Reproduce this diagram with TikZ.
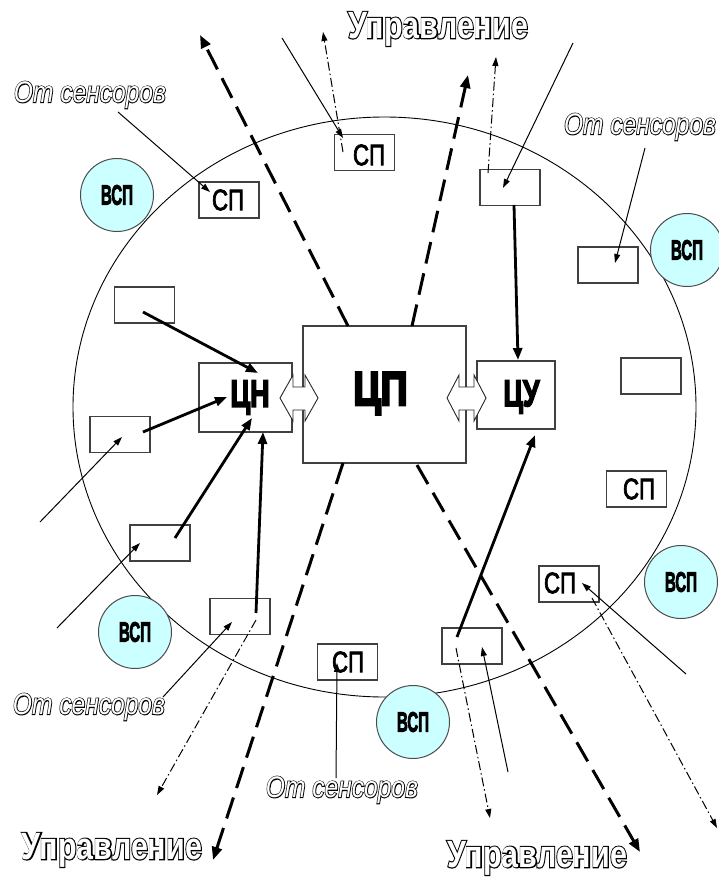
\documentclass[tikz,border=0pt]{standalone}
\usepackage{fontspec}
\setmainfont{Liberation Sans}
\usepackage{graphicx}
\usetikzlibrary{arrows.meta}

\definecolor{auxfill}{RGB}{204,255,255}

% glyphs drawn with a PDF text rendering mode (2 = fill and outline)
\newcommand\strokedtext[2]{\special{pdf:literal direct #1}#2\special{pdf:literal direct 0 Tr}}
% white letters on a black, widened copy of themselves
\newcommand\hollowtext[2]{\rlap{\strokedtext{2 Tr #1 w}{#2}}{\color{white}#2}}
\newcommand\fitbox[3]{\resizebox*{#1pt}{#2pt}{#3}}
\newcommand\bigword[1]{\fitbox{180}{34}{\hollowtext{2.4}{\fontsize{40}{40}\selectfont\bfseries #1}}}
\newcommand\itword[1]{\fitbox{152}{27}{\hollowtext{1.5}{\fontsize{26}{26}\selectfont\itshape #1}}}
\newcommand\sptext{\fitbox{32}{21}{\strokedtext{2 Tr 0.8 w}{\fontsize{28}{28}\selectfont СП}}}
\newcommand\auxtext{\fitbox{32}{20}{\strokedtext{2 Tr 1 w}{\fontsize{28}{28}\selectfont\bfseries ВСП}}}
\newcommand\unitword[4]{\fitbox{#1}{#2}{\strokedtext{2 Tr #3 w}{\fontsize{44}{44}\selectfont\bfseries #4}}}

\tikzset{
  every node/.style={inner sep=0pt, outer sep=0pt},
  frame/.style={draw=black!75, line width=1.2pt, minimum width=60pt, minimum height=36pt},
  unit/.style={draw=black!75, line width=1.2pt, fill=white},
  aux/.style={circle, draw=black!70, line width=1pt, fill=auxfill, minimum size=73pt},
  sensor/.style={line width=1pt, -{Triangle[length=9pt,width=6pt]}},
  ctrl/.style={line width=1pt, dash pattern=on 9pt off 3pt on 1.5pt off 3pt, -{Triangle[length=9pt,width=6pt]}},
  feed/.style={line width=2.8pt, -{Triangle[length=12pt,width=9pt]}},
  mainctrl/.style={line width=3pt, dash pattern=on 22pt off 10pt, -{Triangle[length=13pt,width=10pt]}},
  link/.style={draw=black!85, line width=0.9pt, fill=white}
}

\begin{document}
\begin{tikzpicture}[x=1pt,y=-1pt]
\useasboundingbox (0,0) rectangle (718,878);

% network boundary
\draw[line width=0.9pt] (384.5,407) ellipse [x radius=311.5, y radius=290];

% central units
\node[unit, minimum width=163pt, minimum height=137pt] (cp) at (384.5,394.5) {};
\node[unit, minimum width=93pt, minimum height=69pt] (cn) at (245.5,397.5) {};
\node[unit, minimum width=78pt, minimum height=68pt] (cu) at (516,395) {};
\node (cpl) at (380.5,393.5) {\unitword{54}{42}{2.6}{ЦП}};
\node (cnl) at (250,397.5) {\unitword{39}{34}{2}{ЦН}};
\node (cul) at (521.5,397) {\unitword{36}{33}{2}{ЦУ}};

% two-way links between the central units
\filldraw[link] (280,398) -- (293,375) -- (293,387) -- (305,387) -- (305,375) -- (318,398)
  -- (305,421) -- (305,410) -- (293,410) -- (293,421) -- cycle;
\filldraw[link] (447,398) -- (459,375) -- (459,387) -- (474,387) -- (474,375) -- (486,398)
  -- (474,421) -- (474,410) -- (459,410) -- (459,421) -- cycle;

% peripheral blocks
\node[frame] (b1)  at (364.5,152.5) {};
\node[frame] (b2)  at (229,200) {};
\node[frame] (b3)  at (510,187.5) {};
\node[frame] (b4)  at (608,265) {};
\node[frame] (b5)  at (144.5,305) {};
\node[frame] (b6)  at (651,376) {};
\node[frame] (b7)  at (120,434.5) {};
\node[frame] (b8)  at (636.5,489) {};
\node[frame] (b9)  at (160,543) {};
\node[frame] (b10) at (569,584) {};
\node[frame] (b11) at (240,616.5) {};
\node[frame] (b12) at (472,646) {};
\node[frame] (b13) at (347.5,662) {};
\node (b1t)  at (369,155) {\sptext};
\node (b2t)  at (228,200) {\sptext};
\node (b8t)  at (639,489) {\sptext};
\node (b10t) at (560,583) {\sptext};
\node (b13t) at (348,662) {\sptext};

% auxiliary nodes
\node[aux] (v1) at (117,195) {\auxtext};
\node[aux] (v2) at (687,250) {\auxtext};
\node[aux] (v3) at (135,632) {\auxtext};
\node[aux] (v4) at (413,722) {\auxtext};
\node[aux] (v5) at (681,582) {\auxtext};

% captions in outline letters
\node (upT)  at (438,29)  {\bigword{Управление}};
\node (upL)  at (112,850) {\bigword{Управление}};
\node (upR)  at (537,858) {\bigword{Управление}};
\node (snTL) at (90,95)   {\itword{От сенсоров}};
\node (snTR) at (640,127) {\itword{От сенсоров}};
\node (snBL) at (89,707)  {\itword{От сенсоров}};
\node (snBC) at (342,790) {\itword{От сенсоров}};

% arrow end points
\coordinate (a1s) at (348,326); \coordinate (a1e) at (200,35);
\coordinate (a2s) at (412,326); \coordinate (a2e) at (468,75);
\coordinate (a3s) at (343,463); \coordinate (a3e) at (213,860);
\coordinate (a4s) at (417,465); \coordinate (a4e) at (640,852);

\coordinate (e1s) at (343,152); \coordinate (e1e) at (323,32);
\coordinate (e2s) at (488,173); \coordinate (e2e) at (496,57);
\coordinate (e3s) at (256,620); \coordinate (e3e) at (157,795);
\coordinate (e4s) at (456,648); \coordinate (e4e) at (490,818);
\coordinate (e5s) at (592,598); \coordinate (e5e) at (717,828);

\coordinate (s1s) at (118,112); \coordinate (s1e) at (210,192);
\coordinate (s2s) at (282,38);  \coordinate (s2e) at (343,138);
\coordinate (s3s) at (573,43);  \coordinate (s3e) at (503,188);
\coordinate (s4s) at (645,148); \coordinate (s4e) at (615,263);
\coordinate (s5s) at (40,522);  \coordinate (s5e) at (122,437);
\coordinate (s6s) at (57,628);  \coordinate (s6e) at (140,543);
\coordinate (s7s) at (163,697); \coordinate (s7e) at (232,622);
\coordinate (s8s) at (336,778); \coordinate (s8e) at (337,663);
\coordinate (s9s) at (508,772); \coordinate (s9e) at (482,647);
\coordinate (s10s) at (686,674); \coordinate (s10e) at (582,583);

\coordinate (f1s) at (143,312); \coordinate (f1e) at (258,373);
\coordinate (f2s) at (143,432); \coordinate (f2e) at (227,397);
\coordinate (f3s) at (175,538); \coordinate (f3e) at (252,418);
\coordinate (f4s) at (256,613); \coordinate (f4e) at (263,432);
\coordinate (f5s) at (514,205); \coordinate (f5e) at (518,360);
\coordinate (f6s) at (457,637); \coordinate (f6e) at (535,435);

% control outputs of the central processor
\draw[mainctrl] (a1s) -- (a1e);
\draw[mainctrl] (a2s) -- (a2e);
\draw[mainctrl] (a3s) -- (a3e);
\draw[mainctrl] (a4s) -- (a4e);

% control outputs of peripheral blocks
\draw[ctrl] (e1s) -- (e1e);
\draw[ctrl] (e2s) -- (e2e);
\draw[ctrl] (e3s) -- (e3e);
\draw[ctrl] (e4s) -- (e4e);
\draw[ctrl] (e5s) -- (e5e);

% sensor inputs
\draw[sensor] (s1s) -- (s1e);
\draw[sensor] (s2s) -- (s2e);
\draw[sensor] (s3s) -- (s3e);
\draw[sensor] (s4s) -- (s4e);
\draw[sensor] (s5s) -- (s5e);
\draw[sensor] (s6s) -- (s6e);
\draw[sensor] (s7s) -- (s7e);
\draw[sensor] (s8s) -- (s8e);
\draw[sensor] (s9s) -- (s9e);
\draw[sensor] (s10s) -- (s10e);

% data paths to the central units
\draw[feed] (f1s) -- (f1e);
\draw[feed] (f2s) -- (f2e);
\draw[feed] (f3s) -- (f3e);
\draw[feed] (f4s) -- (f4e);
\draw[feed] (f5s) -- (f5e);
\draw[feed] (f6s) -- (f6e);
\end{tikzpicture}
\end{document}
